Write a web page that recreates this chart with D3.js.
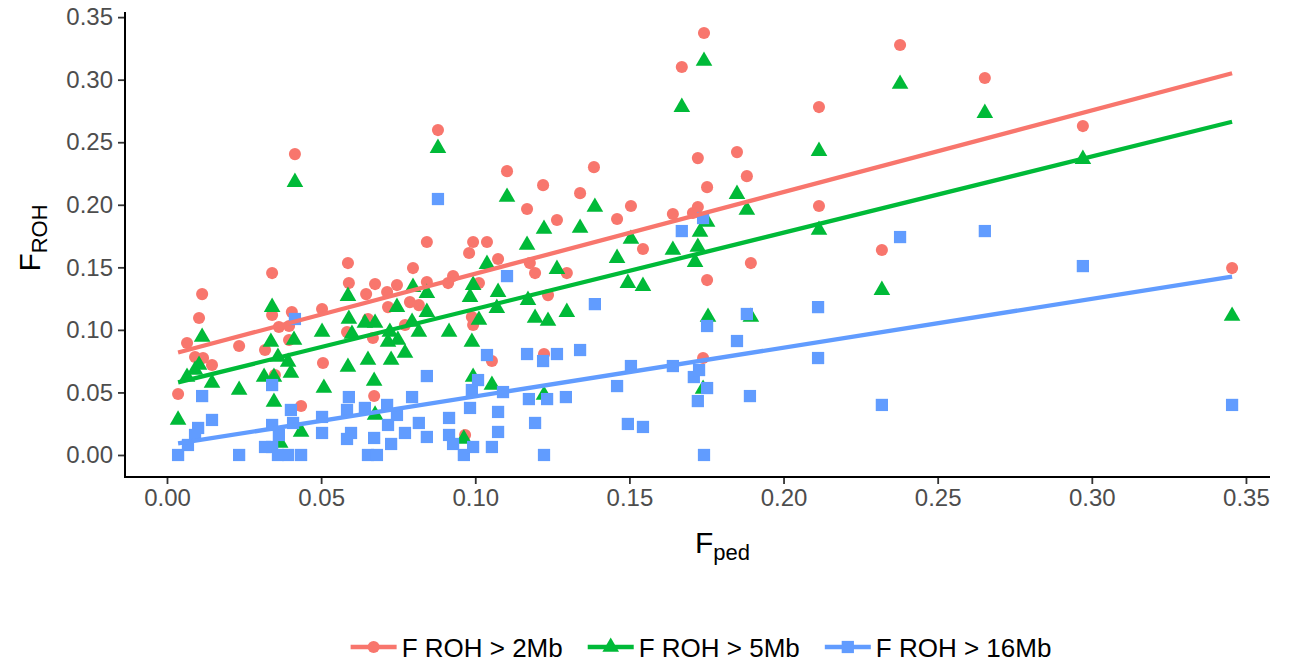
<!DOCTYPE html>
<html>
<head>
<meta charset="utf-8">
<script src="https://cdn.jsdelivr.net/npm/d3@7"></script>
<style>
  body { margin: 0; background: #fff; }
  text { font-family: "Liberation Sans", Arial, sans-serif; }
</style>
</head>
<body>
<svg id="chart" width="1294" height="663"></svg>
<script>
// series labels and colours (ggplot default hue palette)
const seriesNames = ['F ROH > 2Mb', 'F ROH > 5Mb', 'F ROH > 16Mb'];
const seriesColors = ['#F8766D', '#00BA38', '#619CFF'];
const seriesShapes = [d3.symbolCircle, d3.symbolTriangle, d3.symbolSquare];

// [Fped, FROH]
const roh2 = [
  [0.0036,0.0487],[0.0065,0.0895],[0.0091,0.0783],[0.0104,0.1095],[0.0114,0.1286],[0.0117,0.0775],
  [0.0146,0.0719],[0.0234,0.0871],[0.0318,0.0839],[0.0341,0.1454],[0.0341,0.1119],[0.0350,0.0639],
  [0.0363,0.1023],[0.0396,0.1031],[0.0396,0.0919],[0.0405,0.1142],[0.0415,0.2405],[0.0435,0.0392],
  [0.0503,0.1166],[0.0506,0.0735],[0.0584,0.0983],[0.0587,0.1534],[0.0590,0.1374],[0.0646,0.1286],
  [0.0652,0.1087],[0.0668,0.0935],[0.0672,0.0471],[0.0675,0.1366],[0.0714,0.1302],[0.0717,0.1182],
  [0.0746,0.1358],[0.0772,0.1039],[0.0788,0.1222],[0.0798,0.1494],[0.0817,0.1198],[0.0843,0.1702],
  [0.0843,0.1382],[0.0879,0.2597],[0.0912,0.1374],[0.0928,0.1430],[0.0967,0.0160],[0.0980,0.1614],
  [0.0989,0.1103],[0.0993,0.1702],[0.0993,0.1039],[0.1012,0.1374],[0.1038,0.1702],[0.1054,0.0751],
  [0.1074,0.1566],[0.1103,0.2269],[0.1168,0.1966],[0.1177,0.1534],[0.1194,0.1454],[0.1220,0.2157],
  [0.1223,0.0807],[0.1236,0.1278],[0.1265,0.1878],[0.1297,0.1454],[0.1340,0.2093],[0.1385,0.2301],
  [0.1460,0.1886],[0.1505,0.1990],[0.1544,0.1646],[0.1641,0.1926],[0.1670,0.3101],[0.1706,0.1934],
  [0.1722,0.2373],[0.1722,0.1982],[0.1742,0.3373],[0.1739,0.0775],[0.1752,0.2141],[0.1752,0.1398],
  [0.1849,0.2421],[0.1881,0.2229],[0.1894,0.1534],[0.2115,0.2781],[0.2115,0.1990],[0.2319,0.1638],
  [0.2378,0.3277],[0.2653,0.3013],[0.2971,0.2629],[0.3455,0.1494]
];
const roh5 = [
  [0.0036,0.0280],[0.0065,0.0623],[0.0091,0.0679],[0.0104,0.0719],[0.0114,0.0943],[0.0146,0.0575],
  [0.0234,0.0519],[0.0315,0.0623],[0.0337,0.0903],[0.0341,0.1182],[0.0347,0.0623],[0.0347,0.0423],
  [0.0360,0.0783],[0.0367,0.0096],[0.0393,0.0743],[0.0402,0.0655],[0.0412,0.0919],[0.0415,0.2181],
  [0.0435,0.0184],[0.0503,0.0983],[0.0509,0.0535],[0.0587,0.1270],[0.0587,0.0703],[0.0590,0.1087],
  [0.0600,0.0967],[0.0642,0.1055],[0.0652,0.0759],[0.0672,0.0591],[0.0675,0.1055],[0.0675,0.0320],
  [0.0717,0.0903],[0.0723,0.0983],[0.0727,0.0759],[0.0746,0.1182],[0.0749,0.0919],[0.0772,0.0815],
  [0.0795,0.1063],[0.0798,0.1342],[0.0817,0.0983],[0.0843,0.1294],[0.0843,0.1142],[0.0879,0.2453],
  [0.0915,0.0983],[0.0963,0.0128],[0.0983,0.1262],[0.0989,0.0903],[0.0993,0.1358],[0.0993,0.0623],
  [0.1012,0.1079],[0.1038,0.1526],[0.1054,0.0559],[0.1070,0.1174],[0.1074,0.1302],[0.1103,0.2062],
  [0.1168,0.1678],[0.1171,0.1238],[0.1194,0.1095],[0.1223,0.1806],[0.1223,0.0479],[0.1236,0.1071],
  [0.1265,0.1486],[0.1297,0.1142],[0.1340,0.1814],[0.1388,0.1982],[0.1460,0.1574],[0.1495,0.1374],
  [0.1505,0.1726],[0.1544,0.1350],[0.1641,0.1638],[0.1670,0.2781],[0.1713,0.1542],[0.1722,0.1662],
  [0.1729,0.1782],[0.1739,0.0527],[0.1742,0.3149],[0.1752,0.1862],[0.1755,0.1103],[0.1849,0.2085],
  [0.1881,0.1958],[0.1894,0.1103],[0.2115,0.2429],[0.2115,0.1798],[0.2319,0.1318],[0.2378,0.2965],
  [0.2653,0.2733],[0.2971,0.2365],[0.3455,0.1111]
];
const roh16 = [
  [0.0036,0],[0.0068,0.0080],[0.0091,0.0160],[0.0101,0.0216],[0.0114,0.0471],[0.0146,0.0280],
  [0.0234,0],[0.0318,0.0064],[0.0341,0.0559],[0.0341,0.0240],[0.0341,0.0064],[0.0360,0],
  [0.0363,0.0160],[0.0393,0],[0.0402,0.0360],[0.0409,0.0256],[0.0415,0.1087],[0.0435,0],
  [0.0503,0.0304],[0.0503,0.0176],[0.0584,0.0360],[0.0584,0.0128],[0.0590,0.0463],[0.0597,0.0176],
  [0.0642,0.0376],[0.0652,0],[0.0672,0.0136],[0.0681,0],[0.0714,0.0400],[0.0717,0.0240],
  [0.0727,0.0088],[0.0746,0.0320],[0.0772,0.0176],[0.0795,0.0463],[0.0817,0.0256],[0.0843,0.0631],
  [0.0843,0.0144],[0.0879,0.2046],[0.0915,0.0296],[0.0915,0.0160],[0.0928,0.0088],[0.0963,0],
  [0.0983,0.0376],[0.0989,0.0519],[0.0993,0.0064],[0.1009,0.0599],[0.1038,0.0799],[0.1054,0.0064],
  [0.1074,0.0344],[0.1074,0.0184],[0.1090,0.0503],[0.1103,0.1430],[0.1168,0.0807],[0.1174,0.0447],
  [0.1194,0.0256],[0.1220,0.0751],[0.1223,0],[0.1233,0.0447],[0.1265,0.0807],[0.1294,0.0463],
  [0.1340,0.0839],[0.1388,0.1206],[0.1460,0.0551],[0.1495,0.0248],[0.1505,0.0711],[0.1544,0.0224],
  [0.1641,0.0711],[0.1670,0.1790],[0.1709,0.0623],[0.1722,0.0431],[0.1726,0.0679],[0.1739,0.1894],
  [0.1742,0],[0.1752,0.1031],[0.1752,0.0535],[0.1849,0.0911],[0.1881,0.1127],[0.1891,0.0471],
  [0.2112,0.1182],[0.2112,0.0775],[0.2319,0.0400],[0.2378,0.1742],[0.2653,0.1790],[0.2971,0.1510],
  [0.3455,0.0400]
];

// fitted lines [intercept, slope]
const fitLines = [[0.0796, 0.6528], [0.0558, 0.6094], [0.0078, 0.390]];

const xTicks = [0, 0.05, 0.10, 0.15, 0.20, 0.25, 0.30, 0.35];
const yTicks = [0, 0.05, 0.10, 0.15, 0.20, 0.25, 0.30, 0.35];

const allSeries = [roh2, roh5, roh16];

const svg = d3.select('#chart');
const panel = { left: 125, right: 1270, top: 12, bottom: 477 };

const x = d3.scaleLinear().domain([-0.01362, 0.3578]).range([panel.left, panel.right]);
const y = d3.scaleLinear().domain([-0.0176, 0.3541]).range([panel.bottom, panel.top]);

const xExtent = d3.extent(allSeries.flat(), d => d[0]);

// points (red first, blue on top)
const symbolSizes = [115, 120, 150];
allSeries.forEach((pts, i) => {
  const sym = d3.symbol().type(seriesShapes[i]).size(symbolSizes[i]);
  svg.append('g')
    .selectAll('path')
    .data(pts)
    .join('path')
    .attr('d', sym)
    .attr('transform', d => `translate(${x(d[0])},${y(d[1])})`)
    .attr('fill', seriesColors[i]);
});

// regression lines
fitLines.forEach(([b0, b1], i) => {
  svg.append('line')
    .attr('x1', x(xExtent[0])).attr('y1', y(b0 + b1 * xExtent[0]))
    .attr('x2', x(xExtent[1])).attr('y2', y(b0 + b1 * xExtent[1]))
    .attr('stroke', seriesColors[i])
    .attr('stroke-width', 4.3);
});

// axes
const fmt = d3.format('.2f');
const gx = svg.append('g')
  .attr('transform', `translate(0,${panel.bottom})`)
  .call(d3.axisBottom(x).tickValues(xTicks).tickFormat(fmt).tickSize(7).tickPadding(5));
const gy = svg.append('g')
  .attr('transform', `translate(${panel.left},0)`)
  .call(d3.axisLeft(y).tickValues(yTicks).tickFormat(fmt).tickSize(7).tickPadding(5));

[gx, gy].forEach(g => {
  g.select('.domain').remove();
  g.selectAll('.tick line').attr('stroke', '#333').attr('stroke-width', 1.8);
  g.selectAll('.tick text')
    .attr('fill', '#4D4D4D')
    .style('font-size', '24px')
    .style('font-family', '"Liberation Sans", Arial, sans-serif');
});

svg.append('line')
  .attr('x1', panel.left).attr('x2', panel.right)
  .attr('y1', panel.bottom).attr('y2', panel.bottom)
  .attr('stroke', '#000').attr('stroke-width', 2);
svg.append('line')
  .attr('x1', panel.left).attr('x2', panel.left)
  .attr('y1', panel.top).attr('y2', panel.bottom + 1)
  .attr('stroke', '#000').attr('stroke-width', 2);

// axis titles with subscripts
const xTitle = svg.append('text')
  .attr('x', (panel.left + panel.right) / 2 + 25)
  .attr('y', 553)
  .attr('text-anchor', 'middle')
  .style('font-size', '30px')
  .attr('fill', '#000');
xTitle.append('tspan').text('F');
xTitle.append('tspan').attr('dy', 7).style('font-size', '22px').text('ped');

const yTitle = svg.append('text')
  .attr('transform', `translate(40,238) rotate(-90)`)
  .attr('text-anchor', 'middle')
  .style('font-size', '30px')
  .attr('fill', '#000');
yTitle.append('tspan').text('F');
yTitle.append('tspan').attr('dy', 7).style('font-size', '22px').text('ROH');

// legend: key line + symbol, label, laid out left to right
const legendGap = 25;
const legend = svg.append('g').attr('transform', 'translate(0,647)');
let cursor = 0;
seriesNames.forEach((name, i) => {
  const g = legend.append('g').attr('transform', `translate(${cursor},0)`);
  g.append('line')
    .attr('x1', 0).attr('x2', 46)
    .attr('stroke', seriesColors[i]).attr('stroke-width', 4.3);
  g.append('path')
    .attr('d', d3.symbol().type(seriesShapes[i]).size(symbolSizes[i])())
    .attr('transform', 'translate(23,0)')
    .attr('fill', seriesColors[i]);
  const t = g.append('text')
    .attr('x', 51).attr('y', 9.5)
    .style('font-size', '26px')
    .attr('fill', '#000')
    .text(name);
  cursor += 51 + t.node().getComputedTextLength() + legendGap;
});
const legendWidth = cursor - legendGap;
legend.attr('transform', `translate(${701 - legendWidth / 2},647)`);
</script>
</body>
</html>
